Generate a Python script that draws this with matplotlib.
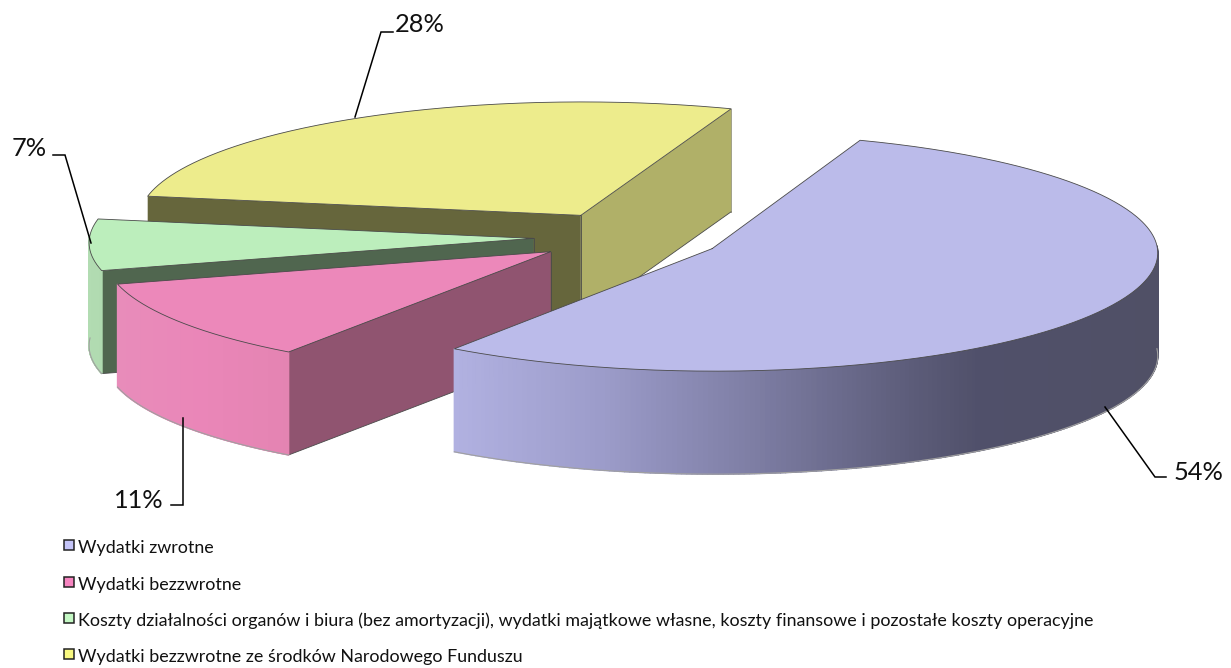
import matplotlib
matplotlib.use('Agg')
import matplotlib.pyplot as plt
import numpy as np
from matplotlib.colors import to_rgb

plt.rcParams['font.family'] = ['Lato', 'DejaVu Sans']

# chart data, clockwise from the first slice
names = ['Wydatki zwrotne', 'Wydatki bezzwrotne',
         'Koszty działalności organów i biura (bez amortyzacji), wydatki majątkowe własne, koszty finansowe i pozostałe koszty operacyjne',
         'Wydatki bezzwrotne ze środków Narodowego Funduszu']
values = [54, 11, 7, 28]

top_colors = ['#BBBBEA', '#EC88BA', '#BCEEBC', '#EDEC8C']
legend_colors = ['#C4C4F8', '#F684C0', '#C4F8C4', '#F8F880']
cut_colors = [None, '#905470', '#50664F', '#66663C']

# wall shading along screen x
wall_x = [
    [449, 600, 760, 900, 980, 1157],
    [119, 200, 290],
    [87, 102],
    [0, 1],
]
wall_c = [
    ['#B2B2E2', '#9C9CCA', '#7C7CA2', '#5E5E7C', '#50506A', '#505066'],
    ['#E88CBA', '#EA86B8', '#E484B2'],
    ['#B2DCB2', '#B0DAB0'],
    ['#B0B068', '#B0B068'],
]

# projection of the pie, in pixels
cx, cy = 628, 237
R = 444
k = 0.266
q = 0.03
h = 103
explode = 0.213
first_angle = 69.7

fig = plt.figure(figsize=(12.31, 6.68), dpi=100)
ax = fig.add_axes([0, 0, 1, 1])
ax.set_xlim(0, 1231)
ax.set_ylim(668, 0)
ax.axis('off')


def project(X, Y):
    s = 1 / (1 + q * Y)
    return cx + R * X * s, cy - R * k * Y * s


def shade(x, i):
    rgb = np.array([to_rgb(c) for c in wall_c[i]])
    return [np.interp(x, wall_x[i], rgb[:, j]) for j in range(3)]


edges = first_angle - np.cumsum([0] + values) / sum(values) * 360
slices = []
for i in range(len(values)):
    a0, a1 = edges[i], edges[i + 1]
    mid = np.radians((a0 + a1) / 2)
    ox, oy = explode * np.cos(mid), explode * np.sin(mid)
    th = np.radians(np.linspace(a0, a1, 300))
    ax_, ay_ = project(ox, oy)
    ex, ey = project(ox + np.cos(th), oy + np.sin(th))
    slices.append((ax_, ay_, ex, ey, th))

line = dict(color='#4A4A4A', lw=0.6, solid_capstyle='round')

# back to front
for i in [3, 2, 1, 0]:
    ax_, ay_, ex, ey, th = slices[i]
    z = 6 - i

    # right hand face of the back slice is lit
    if i == 3:
        ax.fill([ax_, ex[-1], ex[-1], ax_], [ay_, ey[-1], ey[-1] + h, ay_ + h],
                color='#B0B068', lw=0, zorder=z)
        ax.plot([ex[-1], ex[-1]], [ey[-1], ey[-1] + h], color='#A0A088', lw=0.7, zorder=z)
        ax.plot([ex[-1], ax_], [ey[-1] + h, ay_ + h], zorder=z, **line)
    # cut face towards the viewer
    if cut_colors[i]:
        ax.fill([ax_, ex[0], ex[0], ax_], [ay_, ey[0], ey[0] + h, ay_ + h],
                color=cut_colors[i], lw=0, zorder=z)
        ax.plot([ex[0], ax_], [ey[0] + h, ay_ + h], zorder=z, **line)
        ax.plot([ax_, ax_], [ay_, ay_ + h], zorder=z, **line)

    # outer wall, front half only
    front = np.where(np.sin(th) <= 0.03)[0]
    if len(front) > 1:
        for a, b in zip(front[:-1], front[1:]):
            c = shade((ex[a] + ex[b]) / 2, i)
            ax.fill([ex[a], ex[b], ex[b], ex[a]],
                    [ey[a], ey[b], ey[b] + h, ey[a] + h],
                    color=c, lw=1, zorder=z)
        ax.plot(ex[front], ey[front] + h, color='#A0A0A0', lw=0.8, zorder=z)

    # top face
    ax.fill(np.r_[ax_, ex], np.r_[ay_, ey], color=top_colors[i], lw=0, zorder=z + 0.5)
    ax.plot(np.r_[ax_, ex, ax_], np.r_[ay_, ey, ay_], zorder=z + 0.5, **line)

# leader lines and percent labels
leaders = [
    ([1105, 1155, 1166], [407, 477, 477]),
    ([183, 183, 171], [418, 505, 505]),
    ([91, 65, 53], [243, 155, 155]),
    ([355, 381, 393], [117, 32, 32]),
]
label_pos = [(1174, 472, 'left'), (164, 501, 'right'), (47, 148, 'right'), (395, 25, 'left')]
for i in range(4):
    ax.plot(leaders[i][0], leaders[i][1], color='black', lw=1.1, zorder=10,
            solid_joinstyle='miter')
    x, y, ha = label_pos[i]
    ax.text(x, y, f'{values[i]}%', fontsize=18.3, color='#111111', ha=ha, va='center', zorder=11)

# legend
legend_y = [544.5, 582, 618, 654]
for i in range(4):
    y = legend_y[i]
    ax.fill([63.5, 73.5, 73.5, 63.5], [y - 5, y - 5, y + 5, y + 5], facecolor=legend_colors[i],
            edgecolor='#222222', lw=1.1, zorder=10)
    ax.text(78, y + 3, names[i], fontsize=12.85, color='#111111', ha='left', va='center')

fig.savefig('out.png', dpi=100)
